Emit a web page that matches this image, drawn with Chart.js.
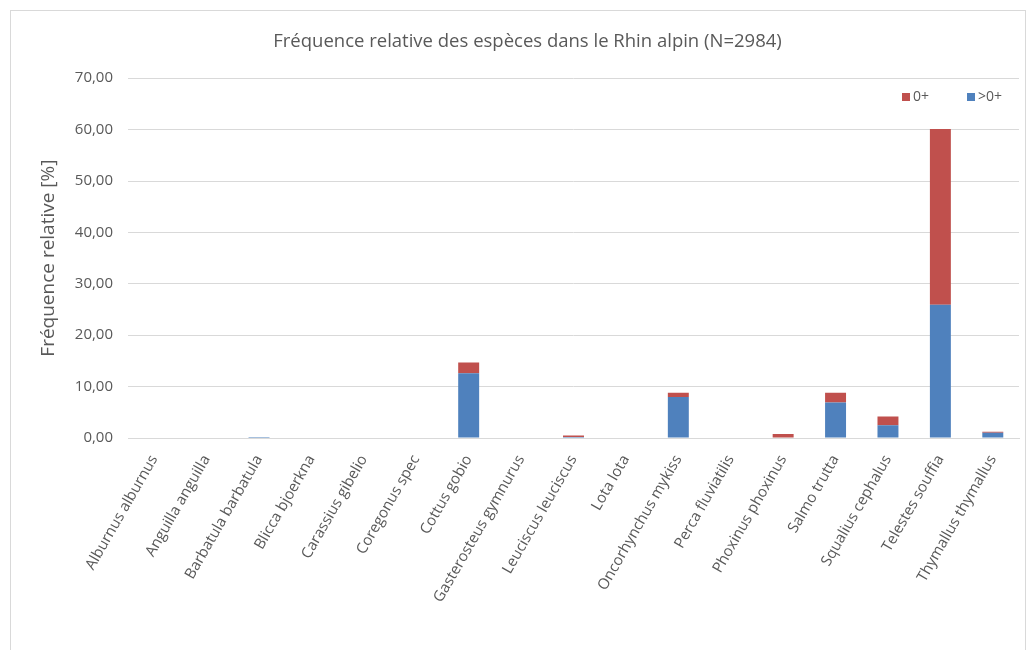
<!DOCTYPE html>
<html lang="fr">
<head>
<meta charset="utf-8">
<title>Fréquence relative des espèces dans le Rhin alpin</title>
<script src="https://cdn.jsdelivr.net/npm/chart.js@4.4.1/dist/chart.umd.min.js"></script>
<style>
    html, body { margin: 0; padding: 0; background: #fff; }
    #frame {
        position: absolute; left: 10px; top: 10px;
        width: 1016px; height: 660px;
        border: 1px solid #d9d9d9; box-sizing: border-box;
    }
    #wrap { position: absolute; left: 0; top: 0; width: 1034px; height: 650px; }
</style>
</head>
<body>
<div id="frame"></div>
<div id="wrap"><canvas id="chart" width="1034" height="650"></canvas></div>
<script>
// Species sampled in the alpine Rhine
const species = [
    'Alburnus alburnus', 'Anguilla anguilla', 'Barbatula barbatula', 'Blicca bjoerkna',
    'Carassius gibelio', 'Coregonus spec', 'Cottus gobio', 'Gasterosteus gymnurus',
    'Leuciscus leuciscus', 'Lota lota', 'Oncorhynchus mykiss', 'Perca fluviatilis',
    'Phoxinus phoxinus', 'Salmo trutta', 'Squalius cephalus', 'Telestes souffia',
    'Thymallus thymallus'
];

// Relative frequency [%] of older fish (>0+)
const olderFish = [0, 0, 0.2, 0, 0, 0, 12.6, 0, 0.2, 0, 8.0, 0, 0, 6.9, 2.5, 25.9, 1.0];
// Relative frequency [%] of young-of-the-year (0+)
const youngFish = [0, 0, 0, 0, 0, 0, 2.1, 0, 0.3, 0, 0.8, 0, 0.8, 1.9, 1.7, 34.2, 0.2];

const yTicks = [0, 10, 20, 30, 40, 50, 60, 70];

const textColor = '#595959';
const gridColor = '#d9d9d9';
const fontFamily = "'Open Sans', 'Liberation Sans', sans-serif";

const fmt = v => v.toFixed(2).replace('.', ',');

// Legend drawn inside the plot, top right: 0+ then >0+
const cornerLegend = {
    id: 'cornerLegend',
    afterDraw(chart) {
        const ctx = chart.ctx;
        const items = [
            { label: chart.data.datasets[1].label, color: chart.data.datasets[1].backgroundColor, x: 902 },
            { label: chart.data.datasets[0].label, color: chart.data.datasets[0].backgroundColor, x: 967 }
        ];
        ctx.save();
        ctx.font = '14px ' + fontFamily;
        ctx.textBaseline = 'middle';
        items.forEach(item => {
            ctx.fillStyle = item.color;
            ctx.fillRect(item.x, 93, 8, 8);
            ctx.fillStyle = textColor;
            ctx.fillText(item.label, item.x + 11, 97.5);
        });
        ctx.restore();
    }
};

new Chart(document.getElementById('chart'), {
    type: 'bar',
    data: {
        labels: species,
        datasets: [
            {
                label: '>0+',
                data: olderFish,
                backgroundColor: '#4F81BD',
                barPercentage: 0.4,
                categoryPercentage: 1.0
            },
            {
                label: '0+',
                data: youngFish,
                backgroundColor: '#C0504D',
                barPercentage: 0.4,
                categoryPercentage: 1.0
            }
        ]
    },
    options: {
        responsive: false,
        animation: false,
        layout: { padding: { left: 36, right: 15, top: 0, bottom: 0 } },
        plugins: {
            legend: { display: false },
            tooltip: { enabled: false },
            title: {
                display: true,
                text: 'Fréquence relative des espèces dans le Rhin alpin (N=2984)',
                color: textColor,
                font: { family: fontFamily, size: 18.5, weight: 'normal' },
                padding: { top: 31, bottom: 25 }
            }
        },
        scales: {
            x: {
                stacked: true,
                grid: { display: false },
                border: { display: true, color: gridColor, width: 1 },
                ticks: {
                    color: textColor,
                    font: { family: fontFamily, size: 15 },
                    minRotation: 60,
                    maxRotation: 60,
                    autoSkip: false,
                    padding: 6
                },
                afterFit(axis) { axis.height = 212; }
            },
            y: {
                stacked: true,
                min: 0,
                max: 70,
                afterBuildTicks(axis) { axis.ticks = yTicks.map(v => ({ value: v })); },
                grid: { color: gridColor, lineWidth: 1, drawTicks: false },
                border: { display: false },
                ticks: {
                    color: textColor,
                    font: { family: fontFamily, size: 15 },
                    padding: 15,
                    callback: v => fmt(v)
                },
                title: {
                    display: true,
                    text: 'Fréquence relative [%]',
                    color: textColor,
                    font: { family: fontFamily, size: 19 },
                    padding: { top: 1, bottom: 0 }
                },
                afterFit(axis) { axis.width = 92; }
            }
        }
    },
    plugins: [cornerLegend]
});
</script>
</body>
</html>
